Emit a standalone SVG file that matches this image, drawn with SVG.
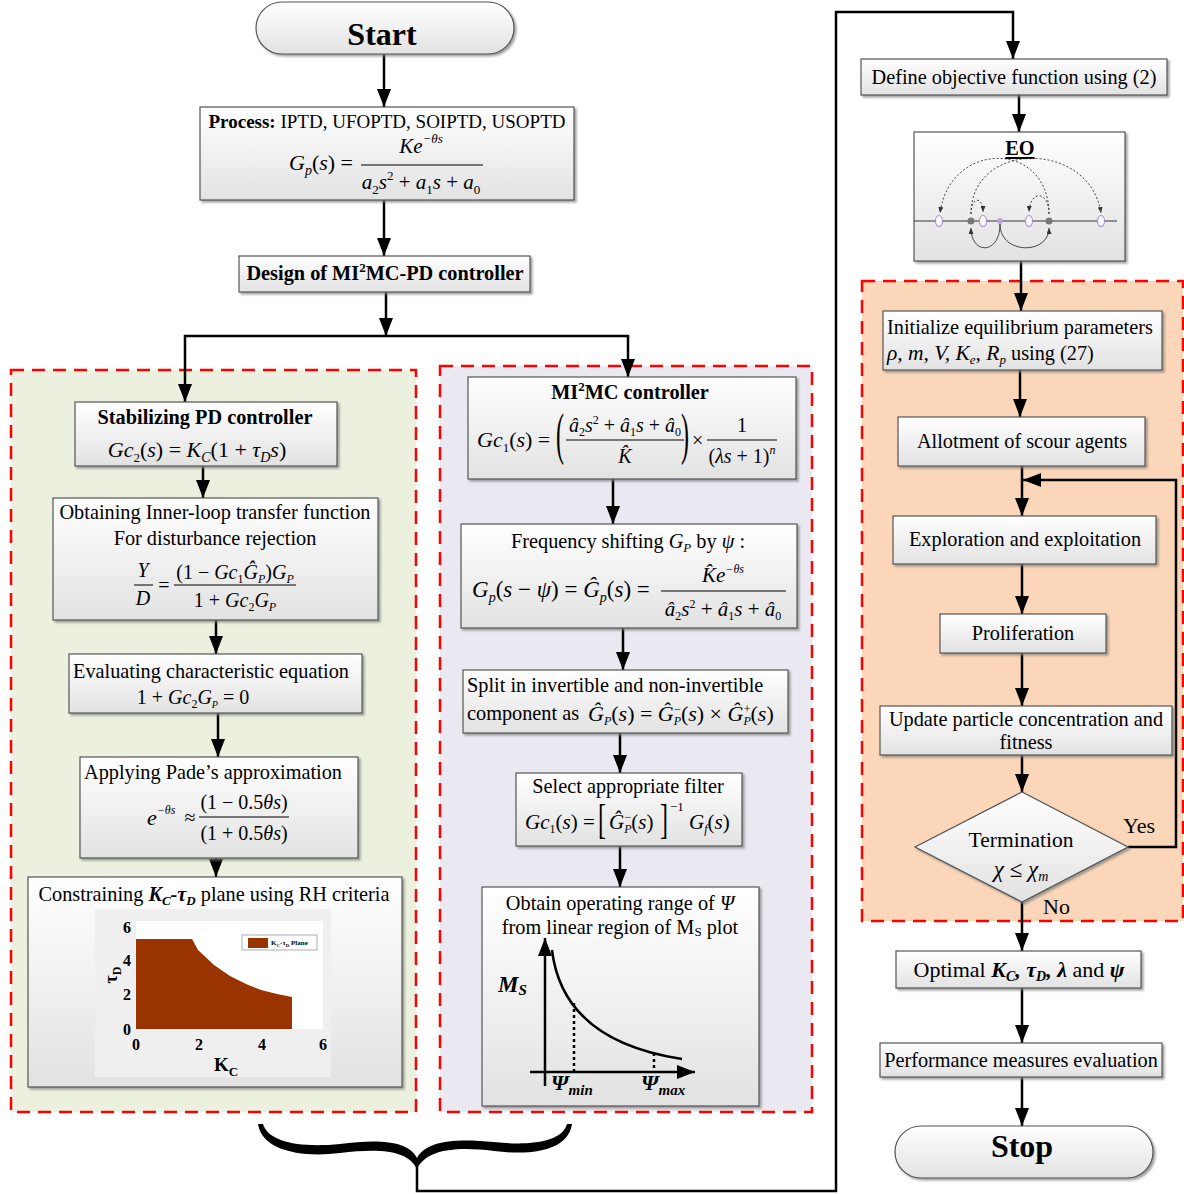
<svg xmlns="http://www.w3.org/2000/svg" width="1184" height="1194" viewBox="0 0 1184 1194" font-size="20.3">
<defs>
<linearGradient id="g" x1="0" y1="0" x2="0" y2="1">
<stop offset="0" stop-color="#ffffff"/>
<stop offset="1" stop-color="#e2e2e2"/>
</linearGradient>
<filter id="sh" x="-5%" y="-5%" width="115%" height="125%">
<feDropShadow dx="2" dy="2" stdDeviation="1.2" flood-color="#7a7a7a" flood-opacity="0.7"/>
</filter>
<marker id="ah" viewBox="0 0 18 14" refX="18" refY="7" markerWidth="18" markerHeight="14" markerUnits="userSpaceOnUse" orient="auto">
<path d="M0,0 L18,7 L0,14 z" fill="#000"/>
</marker>
<marker id="as" viewBox="0 0 6 5" refX="6" refY="2.5" markerWidth="6" markerHeight="5" markerUnits="userSpaceOnUse" orient="auto">
<path d="M0,0 L6,2.5 L0,5 z" fill="#333"/>
</marker>
</defs>
<style>
.box{fill:url(#g);stroke:#555;stroke-width:1.2;filter:url(#sh)}
.reg{stroke:#ff0000;stroke-width:2.5;stroke-dasharray:13 8}
.con{fill:none;stroke:#000;stroke-width:2.5}
.t{font-family:"Liberation Serif","Times New Roman",serif;fill:#000}
.c{text-anchor:middle}
.i{font-style:italic}
.n{font-style:normal}
.b{font-weight:bold}
.bar{stroke:#000;stroke-width:1}
.eo{fill:none;stroke:#333;stroke-width:0.9}
</style>

<g id="regions">
<rect x="11" y="370" width="405" height="742" fill="#EBF1DE" class="reg"/>
<rect x="440" y="366" width="372" height="746" fill="#EAE8F1" class="reg"/>
<rect x="862" y="281" width="321" height="640" fill="#FBD6B8" class="reg"/>
</g>

<g id="connectors">
<path class="con" d="M384 54 V107" marker-end="url(#ah)"/>
<path class="con" d="M384 200 V256" marker-end="url(#ah)"/>
<path class="con" d="M386 292 V336" marker-end="url(#ah)"/>
<path class="con" d="M386 336 H185 V402" marker-end="url(#ah)"/>
<path class="con" d="M386 336 H628 V377" marker-end="url(#ah)"/>
<path class="con" d="M203 466 V498" marker-end="url(#ah)"/>
<path class="con" d="M216 620 V654" marker-end="url(#ah)"/>
<path class="con" d="M218 713 V757" marker-end="url(#ah)"/>
<path class="con" d="M216 858 V877" marker-end="url(#ah)"/>
<path class="con" d="M613 479 V524" marker-end="url(#ah)"/>
<path class="con" d="M623 628 V670" marker-end="url(#ah)"/>
<path class="con" d="M620 733 V773" marker-end="url(#ah)"/>
<path class="con" d="M620 846 V887" marker-end="url(#ah)"/>
<path d="M258 1124 C262 1150 300 1158 340 1153 C380 1148 408 1150 417 1169 C426 1150 454 1146 494 1151 C534 1156 568 1150 572 1124 L567 1124 C562 1142 530 1146 494 1142 C454 1138 426 1141 417 1158 C408 1141 380 1139 340 1144 C300 1148 268 1142 263 1124 Z" fill="#000"/>
<path class="con" d="M417 1166 V1191 H836 V12 H1013 V59" marker-end="url(#ah)"/>
<path class="con" d="M1019 95 V132" marker-end="url(#ah)"/>
<path class="con" d="M1021 261 V311" marker-end="url(#ah)"/>
<path class="con" d="M1020 370 V417" marker-end="url(#ah)"/>
<path class="con" d="M1022 466 V516" marker-end="url(#ah)"/>
<path class="con" d="M1022 564 V614" marker-end="url(#ah)"/>
<path class="con" d="M1022 653 V706" marker-end="url(#ah)"/>
<path class="con" d="M1022 755 V792" marker-end="url(#ah)"/>
<path class="con" d="M1128 847 H1176 V480 H1023" marker-end="url(#ah)"/>
<path class="con" d="M1022 902 V951" marker-end="url(#ah)"/>
<path class="con" d="M1022 988 V1043" marker-end="url(#ah)"/>
<path class="con" d="M1022 1077 V1126" marker-end="url(#ah)"/>
</g>

<g id="start">
<rect x="256" y="2" width="258" height="52" rx="26" class="box"/>
<text x="382" y="45" class="t b c" font-size="32">Start</text>
</g>

<g id="process">
<rect x="200" y="107" width="374" height="93" class="box"/>
<text x="387" y="128" class="t c" font-size="19"><tspan class="b">Process:</tspan> IPTD, UFOPTD, SOIPTD, USOPTD</text>
<text x="289" y="170" class="t i" font-size="22">G<tspan font-size="14" dy="5">p</tspan><tspan class="n" dy="-5">(</tspan>s<tspan class="n">) =</tspan></text>
<text x="421" y="153" class="t i c" font-size="21">Ke<tspan font-size="13" dy="-10">−θs</tspan></text>
<line x1="361" y1="165" x2="483" y2="165" class="bar"/>
<text x="421" y="189" class="t i c" font-size="21">a<tspan class="n" font-size="13" dy="5">2</tspan><tspan dy="-5">s</tspan><tspan class="n" font-size="13" dy="-9">2</tspan><tspan class="n" dy="9"> + </tspan>a<tspan class="n" font-size="13" dy="5">1</tspan><tspan dy="-5">s</tspan><tspan class="n"> + </tspan>a<tspan class="n" font-size="13" dy="5">0</tspan></text>
</g>

<g id="design">
<rect x="239" y="256" width="291" height="36" class="box"/>
<text x="385" y="280" class="t b c">Design of MI<tspan font-size="13" dy="-8">2</tspan><tspan dy="8">MC-PD controller</tspan></text>
</g>

<g id="stabilizing">
<rect x="75" y="402" width="262" height="64" class="box"/>
<text x="205" y="424" class="t b c">Stabilizing PD controller</text>
<text x="197" y="457" class="t i c" font-size="22">Gc<tspan class="n" font-size="13" dy="5">2</tspan><tspan class="n" dy="-5">(</tspan>s<tspan class="n">) = </tspan>K<tspan font-size="14" dy="5">C</tspan><tspan class="n" dy="-5">(1 + </tspan>τ<tspan font-size="14" dy="5">D</tspan><tspan dy="-5">s</tspan><tspan class="n">)</tspan></text>
</g>

<g id="inner-loop">
<rect x="53" y="498" width="325" height="122" class="box"/>
<text x="215" y="519" class="t c">Obtaining Inner-loop transfer function</text>
<text x="215" y="545" class="t c">For disturbance rejection</text>
<text x="143" y="577" class="t i c" font-size="20">Y</text>
<line x1="134" y1="585" x2="153" y2="585" class="bar"/>
<text x="143" y="605" class="t i c" font-size="20">D</text>
<text x="164" y="592" class="t c" font-size="20">=</text>
<text x="235" y="579" class="t c" font-size="20">(1 − <tspan class="i">Gc</tspan><tspan font-size="12" dy="4">1</tspan><tspan class="i" dy="-4">Ĝ</tspan><tspan class="i" font-size="12" dy="4">P</tspan><tspan dy="-4">)</tspan><tspan class="i">G</tspan><tspan class="i" font-size="12" dy="4">P</tspan></text>
<line x1="174" y1="585" x2="296" y2="585" class="bar"/>
<text x="235" y="607" class="t c" font-size="20">1 + <tspan class="i">Gc</tspan><tspan font-size="12" dy="4">2</tspan><tspan class="i" dy="-4">G</tspan><tspan class="i" font-size="12" dy="4">P</tspan></text>
</g>

<g id="characteristic">
<rect x="69" y="654" width="293" height="59" class="box"/>
<text x="211" y="678" class="t c">Evaluating characteristic equation</text>
<text x="193" y="704" class="t c" font-size="20">1 + <tspan class="i">Gc</tspan><tspan font-size="12" dy="4">2</tspan><tspan class="i" dy="-4">G</tspan><tspan class="i" font-size="10" dy="4">P</tspan><tspan dy="-4"> = 0</tspan></text>
</g>

<g id="pade">
<rect x="80" y="757" width="278" height="101" class="box"/>
<text x="213" y="779" class="t c">Applying Pade’s approximation</text>
<text x="147" y="825" class="t i" font-size="22">e<tspan font-size="12" dy="-11">−θs</tspan></text>
<text x="190" y="824" class="t c" font-size="20">≈</text>
<text x="244" y="809" class="t c" font-size="20">(1 − 0.5<tspan class="i">θs</tspan>)</text>
<line x1="199" y1="817" x2="289" y2="817" class="bar"/>
<text x="244" y="840" class="t c" font-size="20">(1 + 0.5<tspan class="i">θs</tspan>)</text>
</g>

<g id="constraining">
<rect x="28" y="877" width="374" height="210" class="box"/>
<text x="214" y="901" class="t c">Constraining <tspan class="b i">K</tspan><tspan class="b i" font-size="13" dy="4">C</tspan><tspan class="b i" dy="-4">-τ</tspan><tspan class="b i" font-size="13" dy="4">D</tspan><tspan dy="-4"> plane using RH criteria</tspan></text>
<rect x="95" y="909" width="236" height="168" fill="#EFEFEF"/>
<rect x="136" y="921" width="187" height="108" fill="#ffffff"/>
<path d="M136 1029 V939 H192 L198 950 L214 965 L230 976 L246 984 L261 990 L277 994 L292 997 V1029 Z" fill="#993300"/>
<g class="t b" font-size="16">
<text x="127" y="933" class="c">6</text>
<text x="127" y="966" class="c">4</text>
<text x="127" y="1000" class="c">2</text>
<text x="127" y="1035" class="c">0</text>
<text x="136" y="1050" class="c">0</text>
<text x="199" y="1050" class="c">2</text>
<text x="262" y="1050" class="c">4</text>
<text x="323" y="1050" class="c">6</text>
</g>
<text x="226" y="1071" class="t b c" font-size="19">K<tspan font-size="13" dy="5">C</tspan></text>
<text transform="translate(117,975) rotate(-90)" class="t b c" font-size="18">τ<tspan font-size="12" dy="4">D</tspan></text>
<rect x="242" y="935" width="75" height="15" fill="#fff" stroke="#999" stroke-width="0.8"/>
<rect x="248" y="938" width="20" height="10" fill="#993300"/>
<text x="271" y="945" class="t b" font-size="7">K<tspan font-size="5" dy="2">C</tspan><tspan dy="-2">-τ</tspan><tspan font-size="5" dy="2">D</tspan><tspan dy="-2"> Plane</tspan></text>
</g>

<g id="mimc">
<rect x="468" y="377" width="328" height="102" class="box"/>
<text x="630" y="399" class="t b c">MI<tspan font-size="13" dy="-8">2</tspan><tspan dy="8">MC controller</tspan></text>
<text x="477" y="447" class="t i" font-size="22">Gc<tspan class="n" font-size="13" dy="5">1</tspan><tspan class="n" dy="-5">(</tspan>s<tspan class="n">) =</tspan></text>
<text transform="translate(556,453) scale(1,2.4)" class="t" font-size="24">(</text>
<text x="625" y="432" class="t i c" font-size="20">â<tspan class="n" font-size="12" dy="4">2</tspan><tspan dy="-4">s</tspan><tspan class="n" font-size="12" dy="-8">2</tspan><tspan class="n" dy="8"> + </tspan>â<tspan class="n" font-size="12" dy="4">1</tspan><tspan dy="-4">s</tspan><tspan class="n"> + </tspan>â<tspan class="n" font-size="12" dy="4">0</tspan></text>
<line x1="566" y1="440" x2="684" y2="440" class="bar"/>
<text x="625" y="463" class="t i c" font-size="20">K̂</text>
<text transform="translate(681,453) scale(1,2.4)" class="t" font-size="24">)</text>
<text x="692" y="447" class="t" font-size="20">×</text>
<text x="742" y="432" class="t c" font-size="20">1</text>
<line x1="707" y1="440" x2="777" y2="440" class="bar"/>
<text x="742" y="463" class="t c" font-size="20">(<tspan class="i">λs</tspan> + 1)<tspan class="i" font-size="12" dy="-9">n</tspan></text>
</g>

<g id="frequency">
<rect x="461" y="524" width="336" height="104" class="box"/>
<text x="628" y="548" class="t c">Frequency shifting <tspan class="i">G</tspan><tspan class="i" font-size="13" dy="4">P</tspan><tspan dy="-4"> by </tspan><tspan class="i">ψ</tspan> :</text>
<text x="472" y="597" class="t i" font-size="23">G<tspan font-size="14" dy="5">p</tspan><tspan class="n" dy="-5">(</tspan>s<tspan class="n"> − </tspan>ψ<tspan class="n">) = </tspan>Ĝ<tspan font-size="14" dy="5">p</tspan><tspan class="n" dy="-5">(</tspan>s<tspan class="n">) =</tspan></text>
<text x="723" y="582" class="t i c" font-size="21">K̂e<tspan font-size="12" dy="-9">−θs</tspan></text>
<line x1="661" y1="591" x2="786" y2="591" class="bar"/>
<text x="723" y="616" class="t i c" font-size="21">â<tspan class="n" font-size="12" dy="4">2</tspan><tspan dy="-4">s</tspan><tspan class="n" font-size="12" dy="-8">2</tspan><tspan class="n" dy="8"> + </tspan>â<tspan class="n" font-size="12" dy="4">1</tspan><tspan dy="-4">s</tspan><tspan class="n"> + </tspan>â<tspan class="n" font-size="12" dy="4">0</tspan></text>
</g>

<g id="split">
<rect x="463" y="670" width="325" height="63" class="box"/>
<text x="467" y="692" class="t">Split in invertible and non-invertible</text>
<text x="467" y="720" class="t">component as</text>
<text x="588" y="721" class="t i" font-size="22">Ĝ<tspan font-size="12" dy="4">P</tspan><tspan class="n" dy="-4">(</tspan>s<tspan class="n">) = </tspan>Ĝ<tspan font-size="12" dy="4">P</tspan><tspan class="n" font-size="12" dx="-7" dy="-12">−</tspan><tspan class="n" dy="8">(</tspan>s<tspan class="n">) × </tspan>Ĝ<tspan font-size="12" dy="4">P</tspan><tspan class="n" font-size="12" dx="-7" dy="-12">+</tspan><tspan class="n" dy="8">(</tspan>s<tspan class="n">)</tspan></text>
</g>

<g id="filter">
<rect x="516" y="773" width="226" height="73" class="box"/>
<text x="628" y="793" class="t c">Select appropriate filter</text>
<text x="525" y="829" class="t i" font-size="21">Gc<tspan class="n" font-size="12" dy="4">1</tspan><tspan class="n" dy="-4">(</tspan>s<tspan class="n">) =</tspan></text>
<text transform="translate(598,833) scale(1,1.8)" class="t" font-size="24">[</text>
<text x="609" y="829" class="t i" font-size="21">Ĝ<tspan font-size="12" dy="4">P</tspan><tspan class="n" font-size="12" dx="-7" dy="-12">−</tspan><tspan class="n" dy="8">(</tspan>s<tspan class="n">)</tspan></text>
<text transform="translate(660,833) scale(1,1.8)" class="t" font-size="24">]</text>
<text x="670" y="811" class="t" font-size="13">−1</text>
<text x="689" y="829" class="t i" font-size="21">G<tspan font-size="12" dy="4">f</tspan><tspan class="n" dy="-4">(</tspan>s<tspan class="n">)</tspan></text>
</g>

<g id="ms-plot">
<rect x="482" y="887" width="277" height="219" class="box"/>
<text x="620" y="910" class="t c">Obtain operating range of <tspan class="i">Ψ</tspan></text>
<text x="620" y="934" class="t c">from linear region of M<tspan font-size="13" dy="2">S</tspan><tspan dy="-2"> plot</tspan></text>
<path class="con" d="M545 1086 V938" stroke-width="3" marker-end="url(#ah)"/>
<path class="con" d="M530 1072 H695" stroke-width="3" marker-end="url(#ah)"/>
<path class="con" d="M552 950 C558 1000 590 1045 682 1059"/>
<path class="con" d="M574 1003 V1072" stroke-dasharray="3 3"/>
<path class="con" d="M654 1053 V1072" stroke-dasharray="3 3"/>
<text x="498" y="992" class="t b i" font-size="23">M<tspan font-size="15" dy="3">S</tspan></text>
<text x="551" y="1090" class="t b i" font-size="22">Ψ<tspan font-size="15" dy="5">min</tspan></text>
<text x="641" y="1090" class="t b i" font-size="22">Ψ<tspan font-size="15" dy="5">max</tspan></text>
</g>

<g id="objective">
<rect x="861" y="59" width="306" height="36" class="box"/>
<text x="1014" y="84" class="t c">Define objective function using (2)</text>
</g>

<g id="eo">
<rect x="914" y="132" width="211" height="129" class="box"/>
<text x="1020" y="155" class="t b c" text-decoration="underline">EO</text>
<line x1="914" y1="221" x2="1117" y2="221" stroke="#333" stroke-width="1.2"/>
<path class="eo" stroke-dasharray="2 2" d="M1049 214 C1049 140 950 140 940 213" marker-end="url(#as)"/>
<path class="eo" stroke-dasharray="2 2" d="M971 214 C971 140 1090 140 1101 213" marker-end="url(#as)"/>
<path class="eo" stroke-dasharray="2 2" d="M971 214 C971 196 983 196 983 212" marker-end="url(#as)"/>
<path class="eo" stroke-dasharray="2 2" d="M1049 214 C1049 190 1030 190 1029 212" marker-end="url(#as)"/>
<path class="eo" d="M1000 224 C1000 255 971 255 971 228" marker-end="url(#as)"/>
<path class="eo" d="M1000 224 C1000 255 1049 255 1049 228" marker-end="url(#as)"/>
<g fill="#fff" stroke="#a98fd6" stroke-width="1.2">
<ellipse cx="939" cy="221" rx="3.5" ry="5.5"/>
<ellipse cx="983" cy="221" rx="3.5" ry="5.5"/>
<ellipse cx="1029" cy="221" rx="3.5" ry="5.5"/>
<ellipse cx="1101" cy="221" rx="3.5" ry="5.5"/>
</g>
<circle cx="971" cy="221" r="3.5" fill="#777"/>
<circle cx="1049" cy="221" r="3.5" fill="#777"/>
<circle cx="1000" cy="221" r="3" fill="#b9a6d9"/>
</g>

<g id="initialize">
<rect x="883" y="311" width="279" height="59" class="box"/>
<text x="887" y="334" class="t">Initialize equilibrium parameters</text>
<text x="887" y="360" class="t" font-size="21.5"><tspan class="i">ρ, m, V, K</tspan><tspan class="i" font-size="13" dy="4">e</tspan><tspan class="i" dy="-4">, R</tspan><tspan class="i" font-size="13" dy="4">p</tspan><tspan dy="-4" font-size="20.3"> using (27)</tspan></text>
</g>

<g id="allotment">
<rect x="898" y="417" width="247" height="49" class="box"/>
<text x="1022" y="448" class="t c">Allotment of scour agents</text>
</g>

<g id="exploration">
<rect x="893" y="516" width="263" height="48" class="box"/>
<text x="1025" y="546" class="t c">Exploration and exploitation</text>
</g>

<g id="proliferation">
<rect x="940" y="614" width="166" height="39" class="box"/>
<text x="1023" y="640" class="t c">Proliferation</text>
</g>

<g id="update">
<rect x="880" y="706" width="292" height="49" class="box"/>
<text x="1026" y="726" class="t c">Update particle concentration and</text>
<text x="1026" y="749" class="t c">fitness</text>
</g>

<g id="termination">
<path d="M1022 792 L1128 847 L1022 902 L915 847 Z" class="box"/>
<text x="1021" y="847" class="t c" font-size="21.5">Termination</text>
<text x="1021" y="877" class="t c i" font-size="23">χ <tspan class="n">≤</tspan> χ<tspan font-size="14" dy="4">m</tspan></text>
<text x="1123" y="833" class="t" font-size="22">Yes</text>
<text x="1043" y="914" class="t" font-size="22">No</text>
</g>

<g id="optimal">
<rect x="896" y="951" width="245" height="37" class="box"/>
<text x="1019" y="977" class="t c" font-size="22">Optimal <tspan class="b i">K</tspan><tspan class="b i" font-size="14" dy="4">C</tspan><tspan class="b i" dy="-4">, τ</tspan><tspan class="b i" font-size="14" dy="4">D</tspan><tspan class="b i" dy="-4">, λ</tspan> and <tspan class="b i">ψ</tspan></text>
</g>

<g id="performance">
<rect x="880" y="1043" width="282" height="34" class="box"/>
<text x="1021" y="1067" class="t c">Performance measures evaluation</text>
</g>

<g id="stop">
<rect x="895" y="1126" width="258" height="52" rx="26" class="box"/>
<text x="1022" y="1157" class="t b c" font-size="32">Stop</text>
</g>
</svg>
